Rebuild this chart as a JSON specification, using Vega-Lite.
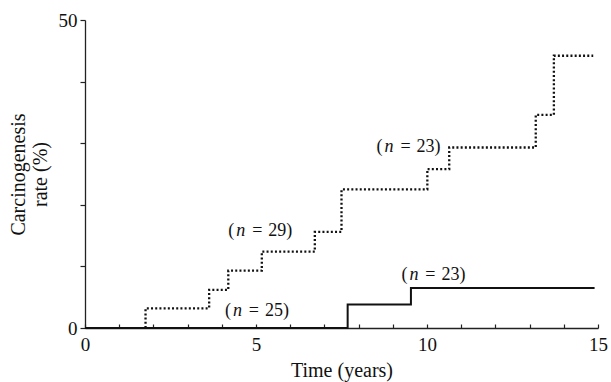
{
  "$schema": "https://vega.github.io/schema/vega-lite/v6.json",
  "width": 513,
  "height": 308,
  "autosize": "none",
  "padding": {"left": 85, "top": 20, "right": 13, "bottom": 54},
  "background": "white",
  "config": {
    "view": {"stroke": null},
    "font": "Liberation Serif",
    "axis": {
      "labelFont": "Liberation Serif",
      "titleFont": "Liberation Serif",
      "labelFontSize": 19,
      "titleFontSize": 20,
      "titleFontWeight": "normal",
      "labelColor": "#111",
      "titleColor": "#111",
      "domainColor": "#222",
      "tickColor": "#222",
      "domainWidth": 1.3,
      "tickWidth": 1.2,
      "grid": false
    }
  },
  "datasets": {
    "curves": [
      {"series": "dotted", "i": 1, "t": 1.77, "v": 0},
      {"series": "dotted", "i": 2, "t": 1.77, "v": 3.2},
      {"series": "dotted", "i": 3, "t": 3.63, "v": 6.2},
      {"series": "dotted", "i": 4, "t": 4.19, "v": 9.3},
      {"series": "dotted", "i": 5, "t": 5.17, "v": 12.4},
      {"series": "dotted", "i": 6, "t": 6.72, "v": 15.6},
      {"series": "dotted", "i": 7, "t": 7.5, "v": 22.5},
      {"series": "dotted", "i": 8, "t": 10.01, "v": 25.8},
      {"series": "dotted", "i": 9, "t": 10.65, "v": 29.3},
      {"series": "dotted", "i": 10, "t": 13.18, "v": 34.6},
      {"series": "dotted", "i": 11, "t": 13.71, "v": 44.2},
      {"series": "dotted", "i": 12, "t": 14.86, "v": 44.2},
      {"series": "solid", "i": 1, "t": 0, "v": 0},
      {"series": "solid", "i": 2, "t": 7.68, "v": 3.8},
      {"series": "solid", "i": 3, "t": 9.53, "v": 6.5},
      {"series": "solid", "i": 4, "t": 14.9, "v": 6.5}
    ],
    "labels": [
      {"t": 5.04, "v": 15.8, "tail": "29)"},
      {"t": 4.94, "v": 2.8, "tail": "25)"},
      {"t": 10.1, "v": 8.6, "tail": "23)"},
      {"t": 9.37, "v": 29.4, "tail": "23)"}
    ]
  },
  "encoding": {
    "x": {
      "field": "t", "type": "quantitative",
      "scale": {"domain": [0, 15], "nice": false, "zero": false},
      "axis": {
        "title": "Time (years)",
        "values": [0,1,2,3,4,5,6,7,8,9,10,11,12,13,14,15],
        "labelExpr": "datum.value % 5 == 0 ? datum.label : ''",
        "tickSize": -4,
        "labelPadding": 11,
        "labelFlush": false,
        "titlePadding": 6
      }
    },
    "y": {
      "field": "v", "type": "quantitative",
      "scale": {"domain": [0, 50], "nice": false},
      "axis": {
        "title": ["Carcinogenesis", "rate (%)"],
        "values": [0, 10, 20, 30, 40, 50],
        "labelExpr": "datum.value == 0 || datum.value == 50 ? datum.label : ''",
        "tickSize": 5,
        "labelPadding": 3,
        "labelFlush": false,
        "titlePadding": 8,
        "titleLineHeight": 22
      }
    }
  },
  "layer": [
    {
      "data": {"name": "curves"},
      "transform": [{"filter": "datum.series == 'dotted'"}],
      "mark": {"type": "line", "interpolate": "step-after", "color": "#111", "strokeWidth": 2.3, "strokeDash": [2, 2.2], "strokeCap": "butt"},
      "encoding": {"order": {"field": "i", "type": "quantitative"}}
    },
    {
      "data": {"name": "curves"},
      "transform": [{"filter": "datum.series == 'solid'"}],
      "mark": {"type": "line", "interpolate": "step-after", "color": "#111", "strokeWidth": 2},
      "encoding": {"order": {"field": "i", "type": "quantitative"}}
    },
    {
      "data": {"name": "labels"},
      "mark": {"type": "text", "text": "=", "font": "Liberation Serif", "fontSize": 18, "align": "center", "baseline": "middle", "color": "#111"},
      "encoding": {}
    },
    {
      "data": {"name": "labels"},
      "mark": {"type": "text", "text": "n", "font": "Liberation Serif", "fontStyle": "italic", "fontSize": 18, "align": "right", "baseline": "middle", "dx": -12, "color": "#111"},
      "encoding": {}
    },
    {
      "data": {"name": "labels"},
      "mark": {"type": "text", "text": "(", "font": "Liberation Serif", "fontSize": 18, "align": "right", "baseline": "middle", "dx": -23, "color": "#111"},
      "encoding": {}
    },
    {
      "data": {"name": "labels"},
      "mark": {"type": "text", "font": "Liberation Serif", "fontSize": 18, "align": "left", "baseline": "middle", "dx": 11, "color": "#111"},
      "encoding": {"text": {"field": "tail"}}
    }
  ]
}
